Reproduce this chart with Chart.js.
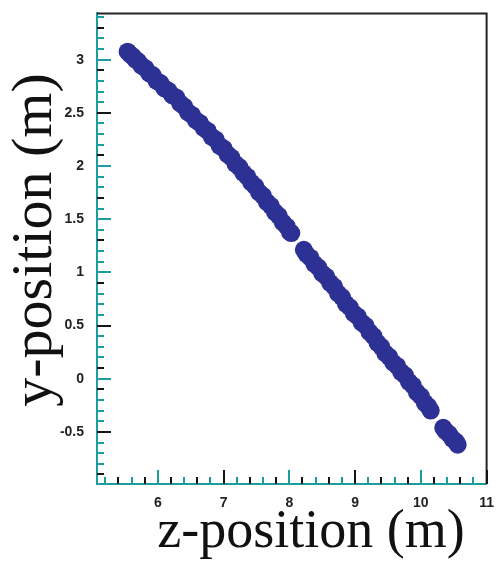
<!DOCTYPE html>
<html>
<head>
<meta charset="utf-8">
<title>Track hits</title>
<script src="https://cdn.jsdelivr.net/npm/chart.js@4.4.1/dist/chart.umd.min.js"></script>
<style>
  html, body { margin: 0; padding: 0; background: #fff; }
  #trackChart { display: block; }
</style>
</head>
<body>
<canvas id="trackChart" width="497" height="561"></canvas>
<script>
// Hit positions along the track (z, y in metres)
const zPositions = [
  5.54, 5.58, 5.62, 5.66, 5.70, 5.75, 5.81, 5.87, 5.92, 5.98,
  6.04, 6.10, 6.16, 6.22, 6.28, 6.34, 6.40, 6.46, 6.52, 6.58,
  6.64, 6.70, 6.76, 6.82, 6.88, 6.94, 7.00, 7.06, 7.12, 7.18,
  7.24, 7.30, 7.36, 7.42, 7.48, 7.54, 7.60, 7.66, 7.72, 7.78,
  7.84, 7.90, 7.96, 8.01, 8.03,
  8.22, 8.26, 8.32, 8.38, 8.44, 8.50, 8.56, 8.62, 8.68, 8.74,
  8.80, 8.86, 8.92, 8.98, 9.04, 9.10, 9.16, 9.22, 9.28, 9.34,
  9.40, 9.46, 9.52, 9.58, 9.64, 9.70, 9.76, 9.82, 9.88, 9.94,
  10.00, 10.06, 10.11, 10.15,
  10.34, 10.38, 10.43, 10.48, 10.53, 10.56
];
const yPositions = [
  3.075, 3.05, 3.03, 3.00, 2.985, 2.945, 2.92, 2.87, 2.855, 2.80,
  2.78, 2.73, 2.71, 2.665, 2.645, 2.59, 2.56, 2.505, 2.48, 2.43,
  2.405, 2.355, 2.33, 2.275, 2.25, 2.19, 2.165, 2.11, 2.08, 2.02,
  1.99, 1.935, 1.90, 1.845, 1.81, 1.752, 1.72, 1.66, 1.625, 1.567,
  1.532, 1.47, 1.432, 1.378, 1.37,
  1.212, 1.172, 1.138, 1.08, 1.048, 0.99, 0.96, 0.902, 0.866, 0.803,
  0.768, 0.704, 0.672, 0.615, 0.586, 0.528, 0.498, 0.437, 0.40, 0.338,
  0.30, 0.238, 0.206, 0.15, 0.12, 0.062, 0.032, -0.03, -0.064, -0.128,
  -0.164, -0.228, -0.258, -0.30,
  -0.462, -0.495, -0.52, -0.565, -0.59, -0.62
];

// Axis ranges and tick spacing
const zRange = [5.075, 11.0];
const yRange = [-0.99, 3.435];
const zMajorStep = 1, zMinorStep = 0.2;
const yMajorStep = 0.5, yMinorStep = 0.1;

const zTitle = 'z-position (m)';
const yTitle = 'y-position (m)';

const TEAL = '#1b9d9d';
const INK = '#151515';
const HIT_BLUE = '#2d3194';

// Tick marks pointing into the plot, plus the top/right frame
const innerTicks = {
  id: 'innerTicks',
  afterDraw(chart) {
    const { ctx, chartArea: area, scales: { x, y } } = chart;
    ctx.save();
    ctx.lineWidth = 2;

    ctx.strokeStyle = '#222';
    ctx.beginPath();
    ctx.moveTo(area.left, area.top);
    ctx.lineTo(area.right, area.top);
    ctx.lineTo(area.right, area.bottom);
    ctx.stroke();

    const zEvery = Math.round(zMajorStep / zMinorStep);
    const zFirst = Math.ceil(x.min / zMinorStep - 1e-6);
    const zLast = Math.floor(x.max / zMinorStep + 1e-6);
    for (let k = zFirst; k <= zLast; k++) {
      const px = Math.round(x.getPixelForValue(k * zMinorStep));
      const len = k % zEvery === 0 ? 14 : 7;
      ctx.strokeStyle = Math.abs(k) % 2 === 1 ? INK : TEAL;
      ctx.beginPath();
      ctx.moveTo(px, area.bottom);
      ctx.lineTo(px, area.bottom - len);
      ctx.stroke();
    }

    const yEvery = Math.round(yMajorStep / yMinorStep);
    const yFirst = Math.ceil(y.min / yMinorStep - 1e-6);
    const yLast = Math.floor(y.max / yMinorStep + 1e-6);
    for (let k = yFirst; k <= yLast; k++) {
      const py = Math.round(y.getPixelForValue(k * yMinorStep));
      const len = k % yEvery === 0 ? 14 : 7;
      ctx.strokeStyle = Math.abs(k) % 4 === 1 ? INK : TEAL;
      ctx.beginPath();
      ctx.moveTo(area.left, py);
      ctx.lineTo(area.left + len, py);
      ctx.stroke();
    }
    ctx.restore();
  }
};

// Large serif axis titles, placed a little off the plot centre
const axisTitles = {
  id: 'axisTitles',
  afterDraw(chart) {
    const { ctx } = chart;
    ctx.save();
    ctx.fillStyle = '#111';
    ctx.textBaseline = 'alphabetic';
    ctx.textAlign = 'center';

    ctx.font = '54px "Liberation Serif", "Times New Roman", serif';
    ctx.fillText(zTitle, 311, 547);

    ctx.font = '58px "Liberation Serif", "Times New Roman", serif';
    ctx.translate(51, 240);
    ctx.rotate(-Math.PI / 2);
    ctx.fillText(yTitle, 0, 0);
    ctx.restore();
  }
};

const tickFont = { family: '"Liberation Sans", Arial, sans-serif', size: 14, weight: 'bold' };
const tickText = v => String(Math.round(v * 10) / 10);

new Chart(document.getElementById('trackChart'), {
  type: 'scatter',
  data: {
    datasets: [{
      data: zPositions.map((z, i) => ({ x: z, y: yPositions[i] })),
      backgroundColor: HIT_BLUE,
      borderWidth: 0,
      pointRadius: 9,
      pointHoverRadius: 9
    }]
  },
  options: {
    responsive: false,
    animation: false,
    devicePixelRatio: 1,
    layout: { padding: { left: 0, right: 5, top: 10, bottom: 0 } },
    plugins: { legend: { display: false }, tooltip: { enabled: false } },
    scales: {
      x: {
        type: 'linear',
        min: zRange[0],
        max: zRange[1],
        grid: { display: false },
        border: { color: TEAL, width: 2 },
        ticks: { stepSize: zMajorStep, includeBounds: false, padding: 3, color: '#222', font: tickFont, maxRotation: 0, callback: tickText },
        afterFit(scale) { scale.height = 77; }
      },
      y: {
        type: 'linear',
        min: yRange[0],
        max: yRange[1],
        grid: { display: false },
        border: { color: TEAL, width: 2 },
        ticks: { stepSize: yMajorStep, includeBounds: false, padding: 5, color: '#222', font: tickFont, callback: tickText },
        afterFit(scale) { scale.width = 97; }
      }
    }
  },
  plugins: [innerTicks, axisTitles]
});
</script>
</body>
</html>
